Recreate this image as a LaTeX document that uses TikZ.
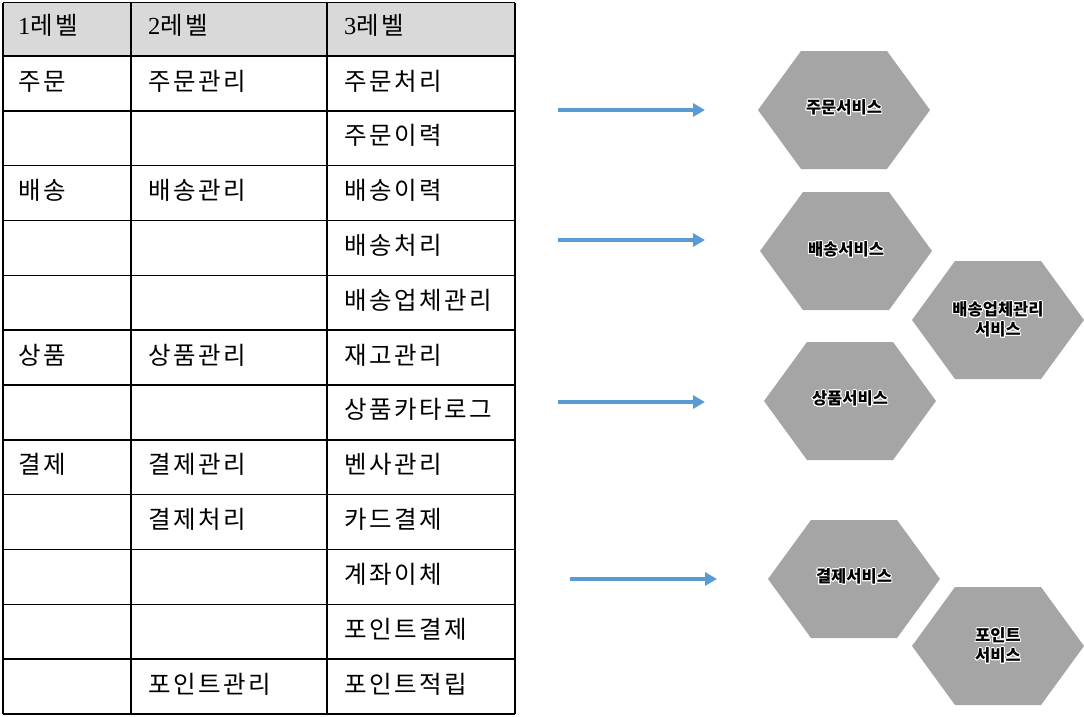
\documentclass[tikz,border=0pt]{standalone}
\usepackage{fontspec}
\setmainfont{Liberation Serif}
\newfontfamily\kr{Noto Sans CJK KR}
\newfontfamily\krwide[LetterSpace=10]{Noto Sans CJK KR}
\usepackage[copies]{contour}
\usetikzlibrary{arrows.meta}
\definecolor{hdrgray}{HTML}{D9D9D9}
\definecolor{hexgray}{HTML}{A5A5A5}
\definecolor{arrowblue}{HTML}{5B9BD5}
\contourlength{0.9pt}

\begin{document}
\begin{tikzpicture}[x=1pt,y=-1pt,
  cell/.style={anchor=base west,inner sep=0pt,font=\krwide\fontsize{24.5}{28}\selectfont},
  svc/.style={align=center,inner sep=0pt,font=\kr\bfseries\fontsize{16.5}{20}\selectfont},
  flow/.style={line width=3.5pt,arrowblue,-{Triangle[length=12pt,width=13pt]}},
  hexsvc/.pic={\fill[hexgray] (-86,0) -- (-43,-59) -- (43,-59) -- (86,0) -- (43,59) -- (-43,59) -- cycle;}]
\useasboundingbox (0,0) rectangle (1084,716);

% table
\fill[hdrgray] (3,2.5) rectangle (515,56);
\foreach \r in {0,...,12}
  \draw[line width=1.5pt] (3,{56+54.83*\r}) -- (515,{56+54.83*\r});
\draw[line width=1.5pt] (3,2.5) -- (515,2.5);
\foreach \x in {3,131,327,515}
  \draw[line width=1.5pt] (\x,2.5) -- (\x,714);

\node[cell] (h1) at (18,34) {{\rmfamily 1}레벨};
\node[cell] (h2) at (148,34) {{\rmfamily 2}레벨};
\node[cell] (h3) at (344,34) {{\rmfamily 3}레벨};

\foreach \r/\t in {0/주문,2/배송,5/상품,7/결제}
  \node[cell] (lvA-\r) at (18,{90+54.83*\r}) {\t};
\foreach \r/\t in {0/주문관리,2/배송관리,5/상품관리,7/결제관리,8/결제처리,11/포인트관리}
  \node[cell] (lvB-\r) at (148,{90+54.83*\r}) {\t};
\foreach \t [count=\r from 0] in {주문처리,주문이력,배송이력,배송처리,배송업체관리,재고관리,
    상품카타로그,벤사관리,카드결제,계좌이체,포인트결제,포인트적립}
  \node[cell] (lvC-\r) at (344,{90+54.83*\r}) {\t};

% services
\pic at (844,110) {hexsvc};
\node[svc] (order) at (844,108) {\contour{white}{주문서비스}};
\pic at (846,251) {hexsvc};
\node[svc] (ship) at (846,250) {\contour{white}{배송서비스}};
\pic at (998,320) {hexsvc};
\node[svc] (carrier) at (998,320) {\contour{white}{배송업체관리}\\\contour{white}{서비스}};
\pic at (850,401) {hexsvc};
\node[svc] (goods) at (850,399) {\contour{white}{상품서비스}};
\pic at (854,579) {hexsvc};
\node[svc] (pay) at (854,577) {\contour{white}{결제서비스}};
\pic at (998,646) {hexsvc};
\node[svc] (point) at (998,646) {\contour{white}{포인트}\\\contour{white}{서비스}};

% arrows
\coordinate (o1) at (558,110);
\coordinate (o2) at (705,110);
\coordinate (s1) at (558,240);
\coordinate (s2) at (705,240);
\coordinate (g1) at (558,402);
\coordinate (g2) at (705,402);
\coordinate (p1) at (570,579);
\coordinate (p2) at (717,579);
\draw[flow] (o1) -- (o2);
\draw[flow] (s1) -- (s2);
\draw[flow] (g1) -- (g2);
\draw[flow] (p1) -- (p2);
\end{tikzpicture}
\end{document}
